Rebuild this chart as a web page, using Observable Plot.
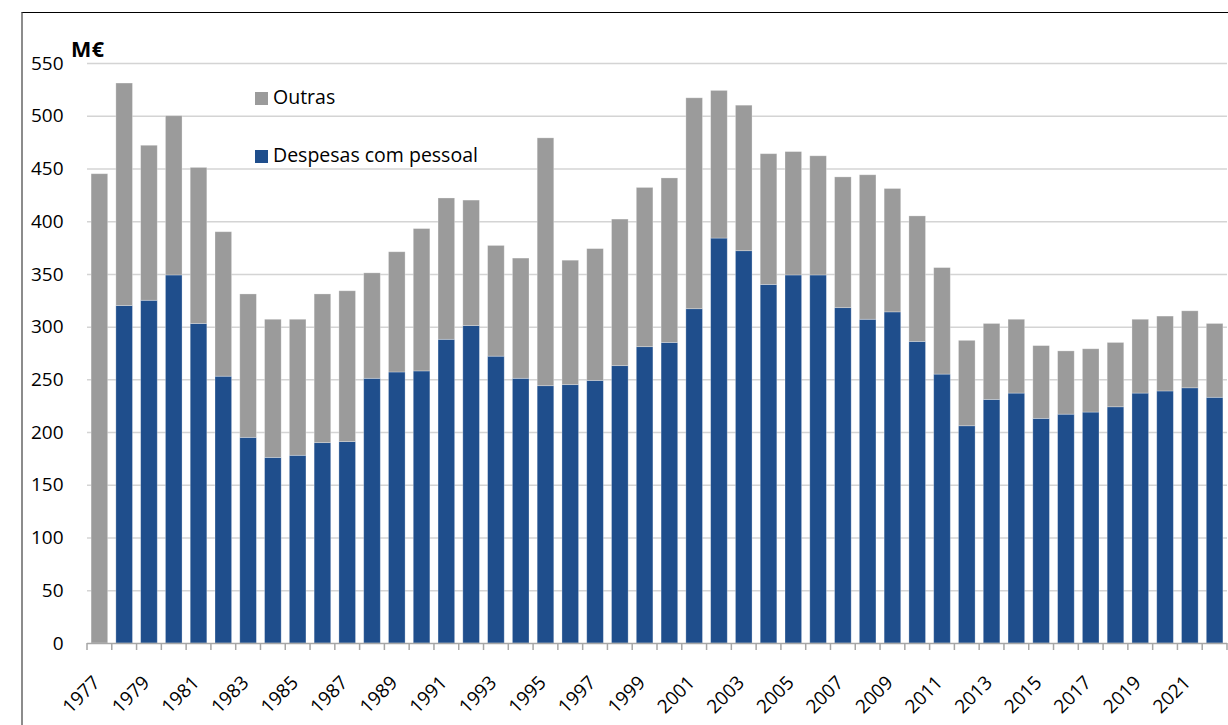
<!DOCTYPE html>
<html>
<head>
<meta charset="utf-8">
<script src="https://cdn.jsdelivr.net/npm/d3@7"></script>
<script src="https://cdn.jsdelivr.net/npm/@observablehq/plot@0.6"></script>
<style>
  html, body { margin: 0; padding: 0; background: #fff; }
  #wrap { position: relative; width: 1228px; height: 725px; overflow: hidden; font-family: "Open Sans", sans-serif; }
  #chart svg { display: block; }
  #chart svg text { font-family: "Open Sans", sans-serif !important; font-size: 19px !important; fill: #000; }
  #frame { position: absolute; left: 21px; top: 12px; right: -5px; bottom: -5px; border-top: 1.5px solid #000; border-left: 2px solid #8c8c8c; pointer-events: none; }
  .lab { position: absolute; line-height: 1; white-space: nowrap; color: #000; }
  .sw { display: inline-block; width: 13px; height: 13px; position: absolute; }
</style>
</head>
<body>
<div id="wrap">
  <div id="chart"></div>
  <div id="frame"></div>
  <div class="lab" id="unit" style="left:71px; top:38px; font-size:21.5px; font-weight:bold; letter-spacing:0.5px;">M€</div>
  <div id="legend"></div>
</div>
<script>
const years = d3.range(1977, 2023).map(String);

const pessoal = [0, 320, 325, 349, 303, 253, 195, 176, 178, 190, 191, 251, 257, 258, 288, 301,
  272, 251, 244, 245, 249, 263, 281, 285, 317, 384, 372, 340, 349, 349, 318, 307, 314, 286,
  255, 206, 231, 237, 213, 217, 219, 224, 237, 239, 242, 233];

const outras = [445, 211, 147, 151, 148, 137, 136, 131, 129, 141, 143, 100, 114, 135, 134, 119,
  105, 114, 235, 118, 125, 139, 151, 156, 200, 140, 138, 124, 117, 113, 124, 137, 117, 119,
  101, 81, 72, 70, 69, 60, 60, 61, 70, 71, 73, 70];

const seriesNames = ["Despesas com pessoal", "Outras"];
const seriesColors = ["#1f4e8c", "#9b9b9b"];
const legendOrder = ["Outras", "Despesas com pessoal"];
const yTicks = d3.range(0, 551, 50);

const rows = [
  ...years.map((yr, i) => ({year: yr, series: seriesNames[0], value: pessoal[i]})),
  ...years.map((yr, i) => ({year: yr, series: seriesNames[1], value: outras[i]}))
];

function boundaryTicks(index, scales) {
  const x = scales.x, y = scales.y;
  const dom = x.domain();
  let step, bw;
  if (typeof x.step === "function") { step = x.step(); bw = x.bandwidth(); }
  else { const r = x.range(); step = (r[1] - r[0]) / dom.length; bw = step * 0.67; }
  const off = (step - bw) / 2;
  const xs = dom.map(d => x(d) - off);
  xs.push(x(dom[dom.length - 1]) + bw + off);
  const y0 = y(0);
  const g = d3.create("svg:g").attr("stroke", "#a6a6a6").attr("stroke-width", 1.5);
  g.selectAll("line").data(xs).join("line")
    .attr("x1", d => d).attr("x2", d => d)
    .attr("y1", y0).attr("y2", y0 + 7);
  return g.node();
}

const chart = Plot.plot({
  width: 1228,
  height: 725,
  marginLeft: 87,
  marginRight: 1,
  marginTop: 63,
  marginBottom: 82,
  style: {fontFamily: "'Open Sans', sans-serif", fontSize: "19px", color: "#000", background: "transparent", overflow: "visible"},
  x: {domain: years, paddingInner: 0.33, paddingOuter: 0.165, label: null},
  y: {domain: [0, 550], label: null},
  color: {domain: seriesNames, range: seriesColors},
  marks: [
    Plot.gridY(yTicks.filter(v => v > 0), {stroke: "#d4d4d4", strokeOpacity: 1, strokeWidth: 1.5}),
    Plot.barY(rows, {x: "year", y: "value", fill: "series", stroke: "#ffffff", strokeOpacity: 0.35, strokeWidth: 0.8}),
    Plot.ruleY([0], {stroke: "#a6a6a6", strokeWidth: 1.5}),
    boundaryTicks,
    Plot.axisY(yTicks, {tickSize: 0, tickPadding: 24, fontSize: 19, fill: "#000"}),
    Plot.axisX(years.filter((d, i) => i % 2 === 0), {tickSize: 0, tickRotate: -45, tickPadding: 36, dx: -3, fontSize: 19, fill: "#000"})
  ]
});
document.getElementById("chart").appendChild(chart);

// legend
const legend = document.getElementById("legend");
const legendPos = {"Outras": {text: 87, sw: 92}, "Despesas com pessoal": {text: 145, sw: 150}};
legendOrder.forEach(name => {
  const col = seriesColors[seriesNames.indexOf(name)];
  const p = legendPos[name];
  const sw = document.createElement("span");
  sw.className = "sw";
  sw.style.left = "255px";
  sw.style.top = p.sw + "px";
  sw.style.background = col;
  legend.appendChild(sw);
  const t = document.createElement("div");
  t.className = "lab";
  t.style.left = "273px";
  t.style.top = p.text + "px";
  t.style.fontSize = "19.5px";
  t.textContent = name;
  legend.appendChild(t);
});
</script>
</body>
</html>
